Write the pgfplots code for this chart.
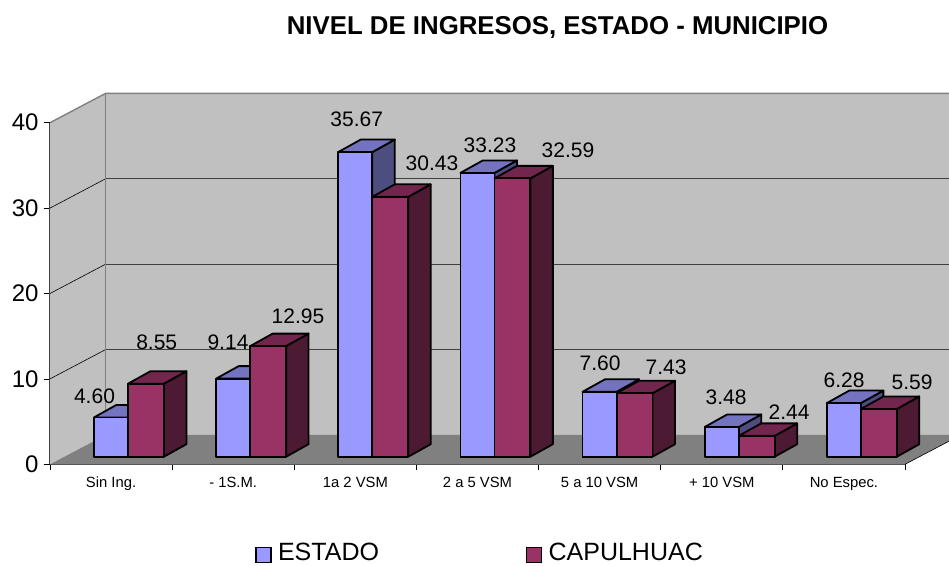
\documentclass[border=0pt]{standalone}
\usepackage{pgfplots}
\pgfplotsset{compat=1.18}
\usepackage{fontspec}
\setmainfont{Liberation Sans}
\definecolor{EF}{HTML}{9999FF}\definecolor{ET}{HTML}{7373BF}\definecolor{ES}{HTML}{4D4D80}
\definecolor{CF}{HTML}{993366}\definecolor{CT}{HTML}{73264D}\definecolor{CS}{HTML}{4D1A33}
\definecolor{Wall}{HTML}{C0C0C0}\definecolor{Floor}{HTML}{808080}\definecolor{Ax}{HTML}{404040}
\newcommand{\fs}[1]{\fontsize{#1}{#1}\selectfont}
% one 3-D looking bar: left x, right x, value, colours
\newcommand{\threedbar}[6]{%
  \pgfmathsetmacro{\xa}{#1}\pgfmathsetmacro{\xb}{#2}%
  \pgfmathsetmacro{\xc}{#1+0.184}\pgfmathsetmacro{\xd}{#2+0.184}%
  \pgfmathsetmacro{\ya}{0.89}\pgfmathsetmacro{\yb}{0.89+#3}%
  \pgfmathsetmacro{\yc}{0.89+1.464}\pgfmathsetmacro{\yd}{0.89+#3+1.464}%
  \addplot[forget plot,draw=black,line width=1.8pt,line join=round,fill=#5] coordinates {(\xb,\ya)(\xd,\yc)(\xd,\yd)(\xb,\yb)} --cycle;
  \addplot[forget plot,draw=black,line width=1.8pt,line join=round,fill=#6] coordinates {(\xa,\yb)(\xb,\yb)(\xd,\yd)(\xc,\yd)} --cycle;
  \addplot[forget plot,draw=black,line width=1.8pt,line join=round,fill=#4] coordinates {(\xa,\ya)(\xb,\ya)(\xb,\yb)(\xa,\yb)} --cycle;
}
\newcommand{\group}[3]{%
  \threedbar{#1+0.360}{#1+0.639}{#2}{EF}{ES}{ET}%
  \threedbar{#1+0.639}{#1+0.933}{#3}{CF}{CS}{CT}%
}
\begin{document}
\begin{tikzpicture}[x=1pt,y=1pt]
\path[use as bounding box] (0,0) rectangle (949,565);
\begin{axis}[
  at={(50pt,100.7pt)},anchor=south west,
  scale only axis,width=855pt,height=341.6pt,
  xmin=0,xmax=7,ymin=0,ymax=40,clip=false,
  axis x line*=bottom,axis y line*=left,
  axis line style={-,draw=Ax,line width=1.4pt},
  tick align=outside,tick style={draw=black,line width=0.8pt},
  major tick length=6pt,
  ytick={0,10,20,30,40},
  xtick={0,1,2,3,4,5,6,7},
  x tick label as interval,
  xticklabels={Sin Ing.,- 1S.M.,1a 2 VSM,2 a 5 VSM,5 a 10 VSM,+ 10 VSM,No Espec.},
  /pgf/number format/assume math mode=true,
  yticklabel style={font=\fs{24},xshift=-2pt},
  xticklabel style={font=\fs{14.8},yshift=-3pt,text height=11pt,text depth=3pt},
  legend style={at={(axis cs:1.68,-8.95)},anchor=north west,draw=none,fill=none,font=\fs{25},legend columns=2,inner sep=0pt,
    /tikz/every even column/.append style={column sep=145pt}},
  legend cell align=left,
  legend image code/.code={\draw[#1] (0pt,-10pt) rectangle (15pt,5pt);\path[draw=none,fill=none] (0pt,0pt) -- (20pt,0pt);},
]
% walls and floor
\addplot[draw=none,fill=Wall,forget plot] coordinates {(0,0)(0,40)(0.456,43.44)(7.36,43.44)(7.36,3.44)(0.456,3.44)} --cycle;
\addplot[draw=none,fill=Floor,forget plot] coordinates {(0,0)(7,0)(7.36,2.7)(7.36,3.44)(0.456,3.44)} --cycle;
% gridlines
\addplot[Ax,line width=1pt,forget plot] coordinates {(0.456,13.44)(7.36,13.44)};
\addplot[Ax,line width=1pt,forget plot] coordinates {(0.456,23.44)(7.36,23.44)};
\addplot[Ax,line width=1pt,forget plot] coordinates {(0.456,33.44)(7.36,33.44)};
\addplot[black,line width=0.6pt,forget plot] coordinates {(0,10)(0.456,13.44)};
\addplot[black,line width=0.6pt,forget plot] coordinates {(0,20)(0.456,23.44)};
\addplot[black,line width=0.6pt,forget plot] coordinates {(0,30)(0.456,33.44)};
\addplot[black,line width=0.6pt,forget plot] coordinates {(7,0)(7.36,2.7)};
\addplot[Floor,line width=1.4pt,forget plot] coordinates {(0,40)(0.456,43.44)(7.36,43.44)};
\addplot[Floor,line width=1.4pt,forget plot] coordinates {(0.456,43.44)(0.456,3.44)};
\group{0}{4.60}{8.55}
\group{1}{9.14}{12.95}
\group{2}{35.67}{30.43}
\group{3}{33.23}{32.59}
\group{4}{7.60}{7.43}
\group{5}{3.48}{2.44}
\group{6}{6.28}{5.59}
\addlegendimage{draw=black,line width=1.3pt,fill=EF}
\addlegendentry{ESTADO}
\addlegendimage{draw=black,line width=1.3pt,fill=CF}
\addlegendentry{CAPULHUAC}
\end{axis}
\def\lab#1#2#3{\node[font=\fs{21},text=black,inner sep=0pt] at (#1,565-#2) {#3};}
\lab{94.5}{396}{4.60}\lab{156.7}{342}{8.55}
\lab{228}{342}{9.14}\lab{298}{316}{12.95}
\lab{356.7}{119}{35.67}\lab{432}{163}{30.43}
\lab{490}{145.7}{33.23}\lab{568}{150}{32.59}
\lab{600}{363}{7.60}\lab{666}{367}{7.43}
\lab{726}{397}{3.48}\lab{789}{412}{2.44}
\lab{844}{380}{6.28}\lab{912}{382}{5.59}
\node[font=\bfseries\fs{25.8},inner sep=0pt] at (557.5,565-27) {NIVEL DE INGRESOS, ESTADO - MUNICIPIO};
\end{tikzpicture}
\end{document}
